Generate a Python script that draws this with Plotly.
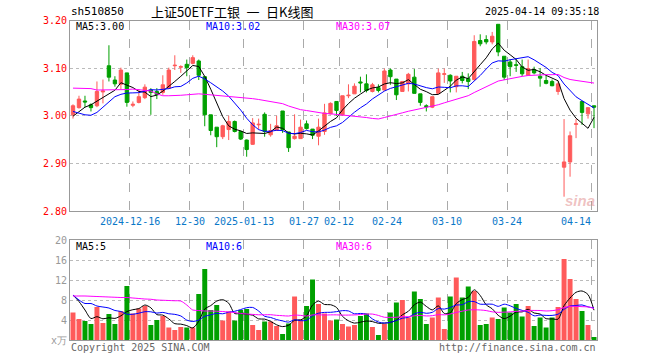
import plotly.graph_objects as go
import pandas as pd

# ---------------- data ----------------
date_idx = [10, 20, 29, 39, 45, 53, 63, 73, 87]
date_labels = ['2024-12-16', '12-30', '2025-01-13', '01-27', '02-12', '02-24', '03-10', '03-24', '04-14']

open_ = [3.002, 3.017, 3.031, 3.023, 3.021, 3.050, 3.105, 3.075, 3.066, 3.090,
         3.022, 3.028, 3.038, 3.054, 3.051, 3.049, 3.058, 3.105, 3.102, 3.108,
         3.110, 3.115, 3.082, 3.002, 2.976, 2.956, 2.971, 2.988, 2.967, 2.949,
         2.940, 2.981, 3.003, 2.960, 2.969, 3.010, 2.966, 2.952, 2.952, 2.983,
         2.972, 2.957, 2.967, 3.004, 3.030, 3.002, 3.042, 3.046, 3.071, 3.067,
         3.051, 3.059, 3.054, 3.096, 3.077, 3.051, 3.067, 3.081, 3.046, 3.021,
         3.018, 3.047, 3.087, 3.085, 3.061, 3.083, 3.078, 3.076, 3.158, 3.160,
         3.155, 3.192, 3.125, 3.113, 3.107, 3.103, 3.085, 3.097, 3.083, 3.074,
         3.072, 3.051, 2.892, 2.903, 2.982, 3.030, 3.004, 3.021]
high = [3.024, 3.042, 3.042, 3.026, 3.072, 3.076, 3.148, 3.083, 3.101, 3.090,
        3.030, 3.056, 3.066, 3.058, 3.058, 3.085, 3.101, 3.127, 3.106, 3.118,
        3.127, 3.118, 3.082, 3.002, 2.976, 2.981, 3.000, 2.990, 2.969, 2.950,
        2.995, 2.994, 3.007, 2.983, 3.000, 3.010, 2.966, 3.003, 2.992, 2.990,
        2.972, 2.994, 3.025, 3.028, 3.030, 3.042, 3.066, 3.068, 3.082, 3.087,
        3.069, 3.066, 3.099, 3.099, 3.077, 3.073, 3.090, 3.098, 3.046, 3.024,
        3.040, 3.099, 3.099, 3.087, 3.083, 3.092, 3.089, 3.169, 3.171, 3.169,
        3.176, 3.192, 3.125, 3.119, 3.120, 3.118, 3.118, 3.103, 3.100, 3.085,
        3.076, 3.072, 2.993, 2.967, 2.993, 3.030, 3.017, 3.021]
low = [2.994, 3.015, 3.018, 3.009, 3.018, 3.026, 3.072, 3.061, 3.056, 3.019,
       3.018, 3.026, 3.035, 3.002, 3.035, 3.044, 3.056, 3.096, 3.090, 3.083,
       3.108, 3.075, 2.978, 2.959, 2.934, 2.951, 2.949, 2.965, 2.949, 2.914,
       2.939, 2.971, 2.956, 2.956, 2.969, 2.964, 2.924, 2.950, 2.952, 2.971,
       2.951, 2.938, 2.960, 3.003, 3.000, 3.000, 3.037, 3.046, 3.049, 3.049,
       3.049, 3.049, 3.053, 3.065, 3.033, 3.051, 3.051, 3.047, 3.021, 3.009,
       3.016, 3.047, 3.069, 3.049, 3.049, 3.068, 3.056, 3.074, 3.146, 3.150,
       3.150, 3.125, 3.075, 3.083, 3.092, 3.083, 3.085, 3.087, 3.061, 3.066,
       3.062, 3.044, 2.830, 2.872, 2.953, 2.981, 2.994, 2.974]
close = [3.021, 3.035, 3.029, 3.017, 3.051, 3.052, 3.081, 3.067, 3.096, 3.028,
         3.024, 3.040, 3.060, 3.049, 3.044, 3.065, 3.096, 3.106, 3.103, 3.101,
         3.122, 3.085, 3.002, 2.969, 2.956, 2.979, 2.988, 2.967, 2.951, 2.929,
         2.985, 2.982, 2.967, 2.969, 2.979, 2.971, 2.933, 2.957, 2.976, 2.973,
         2.959, 2.976, 3.006, 3.026, 3.011, 3.042, 3.043, 3.062, 3.069, 3.053,
         3.065, 3.053, 3.094, 3.082, 3.044, 3.072, 3.087, 3.047, 3.028, 3.019,
         3.040, 3.090, 3.088, 3.073, 3.083, 3.074, 3.072, 3.156, 3.151, 3.155,
         3.167, 3.134, 3.081, 3.103, 3.106, 3.088, 3.099, 3.090, 3.079, 3.068,
         3.063, 3.067, 2.903, 2.958, 2.983, 3.007, 3.017, 3.018]
volume = [5.5, 4.2, 3.8, 3.2, 6.6, 3.4, 5.2, 3.2, 5.8, 10.8,
          5.3, 6.3, 6.8, 3.0, 4.0, 4.8, 2.5, 2.0, 2.6, 2.5,
          2.5, 9.2, 14.2, 6.0, 7.0, 3.9, 5.7, 3.9, 6.0, 6.2,
          3.0, 2.0, 3.7, 3.7, 2.8, 1.2, 3.3, 8.7, 4.1, 6.8,
          12.1, 7.2, 5.3, 3.9, 4.1, 3.2, 2.7, 3.0, 4.8, 5.3,
          2.6, 1.0, 3.2, 5.5, 7.5, 8.0, 4.5, 9.7, 8.2, 3.2,
          4.5, 8.5, 2.2, 8.7, 12.5, 8.5, 10.7, 9.8, 3.0, 3.2,
          4.5, 4.2, 6.5, 5.5, 7.2, 4.7, 6.8, 2.8, 4.5, 2.5,
          4.5, 6.6, 16.2, 12.2, 8.2, 5.8, 3.0, 0.6]

# moving-average values before enough history exists
ma5_head = [2.999, 3.009, 3.018, 3.023]
ma10_head = [3.009, 3.006, 3.002, 3.001, 3.007, 3.018, 3.030, 3.040, 3.045]
ma30_head = [3.058, 3.058, 3.057, 3.057, 3.054, 3.054, 3.054, 3.054, 3.054, 3.055,
             3.056, 3.055, 3.054, 3.052, 3.046, 3.042, 3.042, 3.042, 3.043, 3.044,
             3.045, 3.046, 3.045, 3.044, 3.043, 3.042, 3.041, 3.040, 3.039]
vma5_head = [9.0, 7.7, 6.0, 4.3]
vma10_head = [9.0, 8.0, 7.3, 7.3, 6.8, 6.6, 6.4, 5.9, 5.7]
vma30_head = [8.8, 8.8, 8.8, 8.75, 8.7, 8.65, 8.6, 8.55, 8.5, 8.5,
              8.4, 8.3, 8.2, 8.15, 8.0, 7.95, 7.9, 7.85, 7.8, 7.0,
              6.0, 5.9, 5.8, 5.8, 5.75, 5.7, 5.6, 5.5, 5.3]

price_ticks = [2.80, 2.90, 3.00, 3.10, 3.20]
vol_ticks = [0, 4, 8, 12, 16, 20]
vol_ticktext = ['x万', '4', '8', '12', '16', '20']

# ---------------- helpers ----------------
def ma(values, n, head):
    s = pd.Series(values, dtype=float).rolling(n).mean()
    s.iloc[:n - 1] = head
    return s.tolist()

N = len(close)
x = list(range(N))
RED = '#ff5a5a'
GREEN = '#00a000'
MONO = 'DejaVu Sans Mono'

W, H = 660, 360
L, R = 70, 597


def px_x(p):
    return (p - L) / (R - L)


def px_y(p):
    return (H - p) / H


fig = go.Figure()

fig.add_trace(go.Candlestick(
    x=x, open=open_, high=high, low=low, close=close,
    increasing=dict(line=dict(color=RED, width=1), fillcolor=RED),
    decreasing=dict(line=dict(color=GREEN, width=1), fillcolor=GREEN),
    whiskerwidth=0, xaxis='x', yaxis='y', hoverinfo='skip'))

for vals, n, head, col in [(close, 5, ma5_head, 'black'),
                           (close, 10, ma10_head, '#0000ff'),
                           (close, 30, ma30_head, '#ff00ff')]:
    fig.add_trace(go.Scatter(x=x, y=ma(vals, n, head), mode='lines',
                             line=dict(color=col, width=1),
                             xaxis='x', yaxis='y', hoverinfo='skip'))

bar_colors = [RED if c > o else GREEN for o, c in zip(open_, close)]
fig.add_trace(go.Bar(x=x, y=volume, marker=dict(color=bar_colors, line=dict(width=0)),
                     xaxis='x2', yaxis='y2', hoverinfo='skip'))

for vals, n, head, col in [(volume, 5, vma5_head, 'black'),
                           (volume, 10, vma10_head, '#0000ff'),
                           (volume, 30, vma30_head, '#ff00ff')]:
    fig.add_trace(go.Scatter(x=x, y=ma(vals, n, head), mode='lines',
                             line=dict(color=col, width=1, shape='spline', smoothing=0.8),
                             xaxis='x2', yaxis='y2', hoverinfo='skip'))

grid_x = [i - 0.5 for i in date_idx]
common_x = dict(range=[-0.5, N - 0.5], tickvals=grid_x, showticklabels=False,
                showgrid=True, gridcolor='#aaaaaa', griddash='dash', gridwidth=1,
                showline=True, linecolor='#999999', linewidth=1, mirror=True,
                zeroline=False, ticks='', fixedrange=True)

fig.update_layout(
    width=W, height=H,
    margin=dict(l=L, r=W - R, t=0, b=0, autoexpand=False),
    paper_bgcolor='white', plot_bgcolor='white',
    showlegend=False,
    boxgap=0.2, bargap=0.17,
    font=dict(family=MONO, size=10, color='black'),
    xaxis=dict(domain=[0, 1], anchor='y', rangeslider=dict(visible=False), **common_x),
    yaxis=dict(domain=[px_y(211), px_y(20.5)], range=[2.80, 3.20],
               tickvals=price_ticks, ticktext=['%.2f' % v for v in price_ticks],
               tickfont=dict(family=MONO, size=10, color='#ff0000'),
               showgrid=True, gridcolor='#bbbbbb', griddash='dot', gridwidth=1,
               showline=True, linecolor='#999999', linewidth=1, mirror=True,
               zeroline=False, ticks='', fixedrange=True),
    xaxis2=dict(domain=[0, 1], anchor='y2', **common_x),
    yaxis2=dict(domain=[px_y(340), px_y(240)], range=[0, 20],
                tickvals=vol_ticks, ticktext=vol_ticktext,
                tickfont=dict(family=MONO, size=10, color='#999999'),
                showgrid=True, gridcolor='#bbbbbb', griddash='dot', gridwidth=1,
                showline=True, linecolor='#999999', linewidth=1, mirror=True,
                zeroline=False, ticks='', fixedrange=True),
)

ann = []


def add_text(text, xp, yp, color='black', anchor='left', size=10, family=MONO):
    ann.append(dict(text=text, x=px_x(xp), y=px_y(yp), xref='paper', yref='paper',
                    xanchor=anchor, yanchor='middle', showarrow=False, borderpad=0,
                    font=dict(family=family, size=size, color=color)))


add_text('sh510850', 70, 12, size=11)
add_text('上证50ETF工银\u2002一\u2002日K线图', 150, 11.5, size=13, family='Noto Sans CJK SC')
add_text('2025-04-14 09:35:18', 600, 12, anchor='right', size=10)
add_text('MA5:3.00', 75, 27)
add_text('MA10:3.02', 205, 27, color='#0000ff')
add_text('MA30:3.07', 335, 27, color='#ff00ff')
add_text('MA5:5', 75, 246)
add_text('MA10:6', 205, 246, color='#0000ff')
add_text('MA30:6', 335, 246, color='#ff00ff')
add_text('Copyright 2025 SINA.COM', 70, 347, color='#666666')
add_text('http://finance.sina.com.cn', 597, 347, color='#666666', anchor='right')
add_text('<i><b>sina</b></i>', 596, 200, color='rgba(220,120,120,0.45)', anchor='right', size=15,
         family='Liberation Sans')

for k, (i, lab) in enumerate(zip(date_idx, date_labels)):
    last = k == len(date_idx) - 1
    ann.append(dict(text=lab, x=i - 0.5 + (0.15 if last else 0), y=px_y(221),
                    xref='x', yref='paper', xanchor='right' if last else 'center',
                    yanchor='middle', showarrow=False, borderpad=0,
                    font=dict(family=MONO, size=10, color='#0a78c8')))

fig.update_layout(annotations=ann)
fig.write_html('out.html', config={'displayModeBar': False},
               post_script="document.body.style.margin='0';document.body.style.overflow='hidden';")
